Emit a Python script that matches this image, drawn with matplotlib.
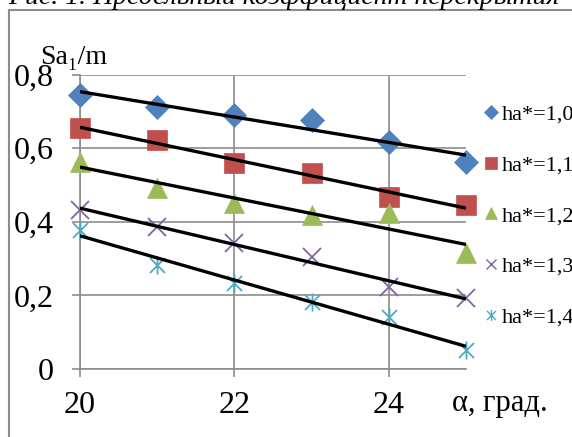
import numpy as np
import matplotlib.pyplot as plt
from matplotlib.path import Path
from matplotlib.lines import Line2D

# angle, degrees
alpha = [20, 21, 22, 23, 24, 25]

# Sa1/m for each addendum coefficient ha*
sa_10 = [0.745, 0.713, 0.690, 0.677, 0.618, 0.563]
sa_11 = [0.656, 0.622, 0.559, 0.532, 0.468, 0.446]
sa_12 = [0.563, 0.491, 0.450, 0.419, 0.424, 0.315]
sa_13 = [0.432, 0.387, 0.343, 0.305, 0.224, 0.192]
sa_14 = [0.378, 0.283, 0.233, 0.183, 0.142, 0.052]

labels = ["ha*=1,0", "ha*=1,1", "ha*=1,2", "ha*=1,3", "ha*=1,4"]
y_ticks = [0, 0.2, 0.4, 0.6, 0.8]
y_ticklabels = ["0", "0,2", "0,4", "0,6", "0,8"]
x_ticks = [20, 22, 24]

# excel "star" marker: x with a vertical bar
star = Path([(-1, -1), (1, 1), (-1, 1), (1, -1), (0, -1.2), (0, 1.2)],
            [Path.MOVETO, Path.LINETO, Path.MOVETO, Path.LINETO, Path.MOVETO, Path.LINETO])

colors = ["#4F81BD", "#C0504D", "#9BBB59", "#8064A2", "#4BACC6"]
markers = ["D", "s", "^", "x", star]
sizes = [12, 14, 14, 13, 13]

serif = ["Liberation Serif", "DejaVu Serif"]
plt.rcParams["font.family"] = serif

fig = plt.figure(figsize=(5.72, 4.37), dpi=100)
W, H = 572, 437
ax = fig.add_axes([80 / W, 1 - 369 / H, (466 - 80) / W, (369 - 74.7) / H])

x = np.array(alpha)
handles = []
for y, c, m, s, lab in zip([sa_10, sa_11, sa_12, sa_13, sa_14], colors, markers, sizes, labels):
    lined = m == "x" or m is star
    ax.plot(x, y, linestyle="none", marker=m, markersize=s, color=c,
            markeredgewidth=1.3 if lined else 0.5, markeredgecolor=c, zorder=3, clip_on=False)
    k, b = np.polyfit(x, y, 1)
    ax.plot(x[[0, -1]], k * x[[0, -1]] + b, color="black", lw=2.4, zorder=4, solid_capstyle="butt")
    handles.append(Line2D([], [], linestyle="none", marker=m, markersize=s * 0.6, color=c,
                          markeredgewidth=1.0 if lined else 0.5, markeredgecolor=c, label=lab))

ax.set_xlim(20, 25)
ax.set_ylim(0, 0.8)
ax.set_xticks(x_ticks)
ax.set_yticks(y_ticks)
ax.set_yticklabels(y_ticklabels)
ax.grid(True, color="#8c8c8c", lw=1.2)
ax.set_axisbelow(True)
for sp in ["top", "right"]:
    ax.spines[sp].set_visible(False)
for sp in ["left", "bottom"]:
    ax.spines[sp].set_color("#8c8c8c")
    ax.spines[sp].set_linewidth(1.2)
ax.tick_params(axis="both", labelsize=23, color="#8c8c8c", width=1.2, length=6)
ax.tick_params(axis="y", pad=13)
ax.tick_params(axis="x", pad=10)

fig.text(40 / W, 1 - 64 / H, "Sa\u2081/m", fontsize=20, family=serif)
fig.text(452 / W, 1 - 411 / H, "\u03b1, \u0433\u0440\u0430\u0434.", fontsize=22, family=serif)

fig.legend(handles=handles, loc="upper left", bbox_to_anchor=(484 / W, 1 - 104 / H),
           frameon=False, fontsize=16, handlelength=0.6, handletextpad=0.2,
           labelspacing=1.36, borderaxespad=0, borderpad=0)

# cropped caption and outer chart frame
fig.text(8 / W, 1 - 3.5 / H, "\u0420\u0438\u0441. 1. \u041f\u0440\u0435\u0434\u0435\u043b\u044c\u043d\u044b\u0439 "
         "\u043a\u043e\u044d\u0444\u0444\u0438\u0446\u0438\u0435\u043d\u0442 "
         "\u043f\u0435\u0440\u0435\u043a\u0440\u044b\u0442\u0438\u044f",
         fontsize=20, style="italic", family=serif)
fig.add_artist(Line2D([8.5 / W, 8.5 / W, 1.0], [0, 1 - 10 / H, 1 - 10 / H],
                      transform=fig.transFigure, color="#8c8c8c", lw=1.5))

fig.savefig("out.png", dpi=100)
